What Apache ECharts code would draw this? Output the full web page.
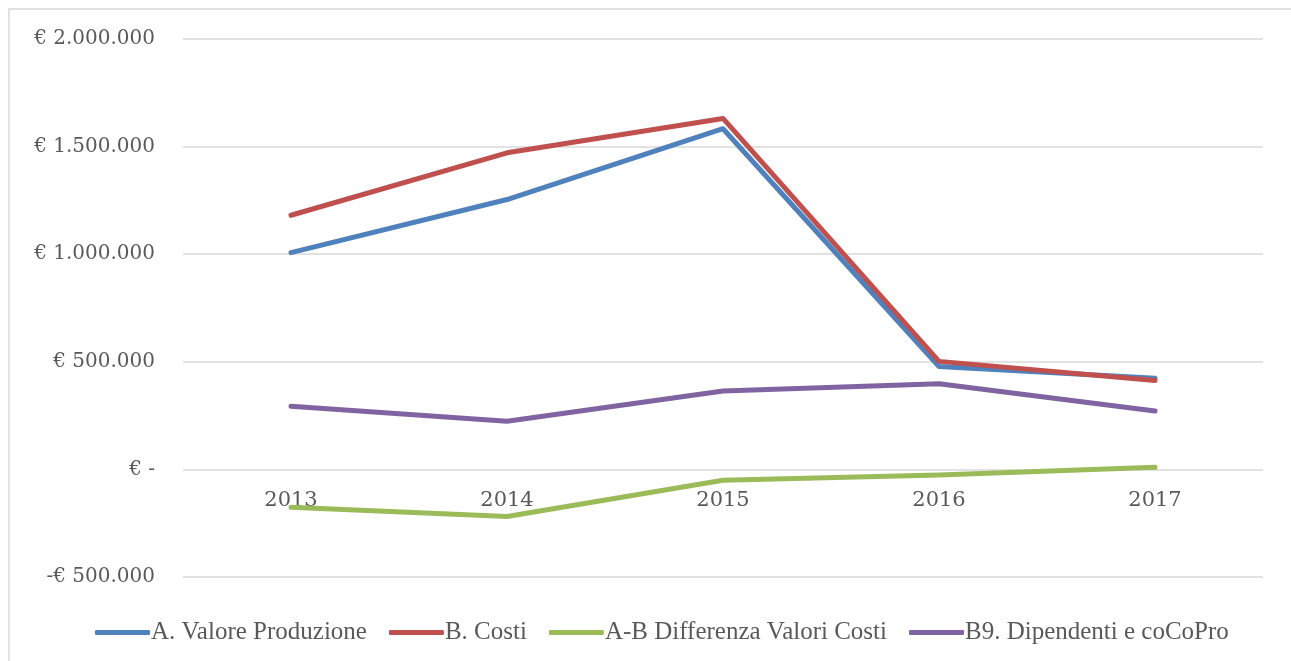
<!DOCTYPE html>
<html>
<head>
<meta charset="utf-8">
<script src="https://cdn.jsdelivr.net/npm/echarts@6/dist/echarts.min.js"></script>
<style>html,body{margin:0;padding:0;background:#fff}#c{width:1291px;height:661px}</style>
</head>
<body>
<div id="c"></div>
<script>
const categories = ['2013', '2014', '2015', '2016', '2017'];
const valoreProduzione = [1007000, 1254000, 1583000, 478000, 423000];
const costi = [1181000, 1471000, 1631000, 502000, 413000];
const differenza = [-176000, -219000, -50000, -26000, 10000];
const dipendenti = [294000, 224000, 364000, 398000, 271000];
const seriesNames = ['A. Valore Produzione', 'B. Costi', 'A-B Differenza Valori Costi', 'B9. Dipendenti e coCoPro'];
const colors = ['#4f81bd', '#c0504d', '#9bbb59', '#8064a2'];

function fmt(v) {
  if (v === 0) return '€ -';
  const a = Math.abs(v).toString().replace(/\B(?=(\d{3})+(?!\d))/g, '.');
  return (v < 0 ? '-€ ' : '€ ') + a;
}

const chart = echarts.init(document.getElementById('c'), null, {renderer: 'canvas'});
const dataSets = [valoreProduzione, costi, differenza, dipendenti];
chart.setOption({
  animation: false,
  color: colors,
  graphic: [{
    type: 'rect', shape: {x: 9, y: 9, width: 1300, height: 680},
    style: {fill: 'none', stroke: '#d9d9d9', lineWidth: 1.5}, silent: true
  }],
  grid: {left: 183, right: 28, top: 39, bottom: 84},
  legend: {
    data: seriesNames,
    left: 90, top: 615,
    itemWidth: 55, itemHeight: 5, itemGap: 22,
    icon: 'roundRect',
    textStyle: {fontFamily: 'Liberation Serif', fontSize: 25, color: '#595959', padding: [0, 0, 0, -4]}
  },
  xAxis: {
    type: 'category', data: categories, boundaryGap: true,
    offset: -107.5,
    axisLine: {show: false},
    axisTick: {show: false},
    axisLabel: {fontFamily: 'DejaVu Serif', fontSize: 21, color: '#595959', margin: 21}
  },
  yAxis: {
    type: 'value', min: -500000, max: 2000000, interval: 500000,
    axisLine: {show: false}, axisTick: {show: false},
    splitLine: {lineStyle: {color: '#d9d9d9', width: 1.5}},
    axisLabel: {fontFamily: 'DejaVu Serif', fontSize: 20, color: '#595959', margin: 28, formatter: fmt}
  },
  series: seriesNames.map((n, i) => ({
    name: n, type: 'line', data: dataSets[i], showSymbol: false, symbol: 'none',
    lineStyle: {width: 5, color: colors[i], cap: 'round', join: 'round'}
  }))
});
</script>
</body>
</html>
